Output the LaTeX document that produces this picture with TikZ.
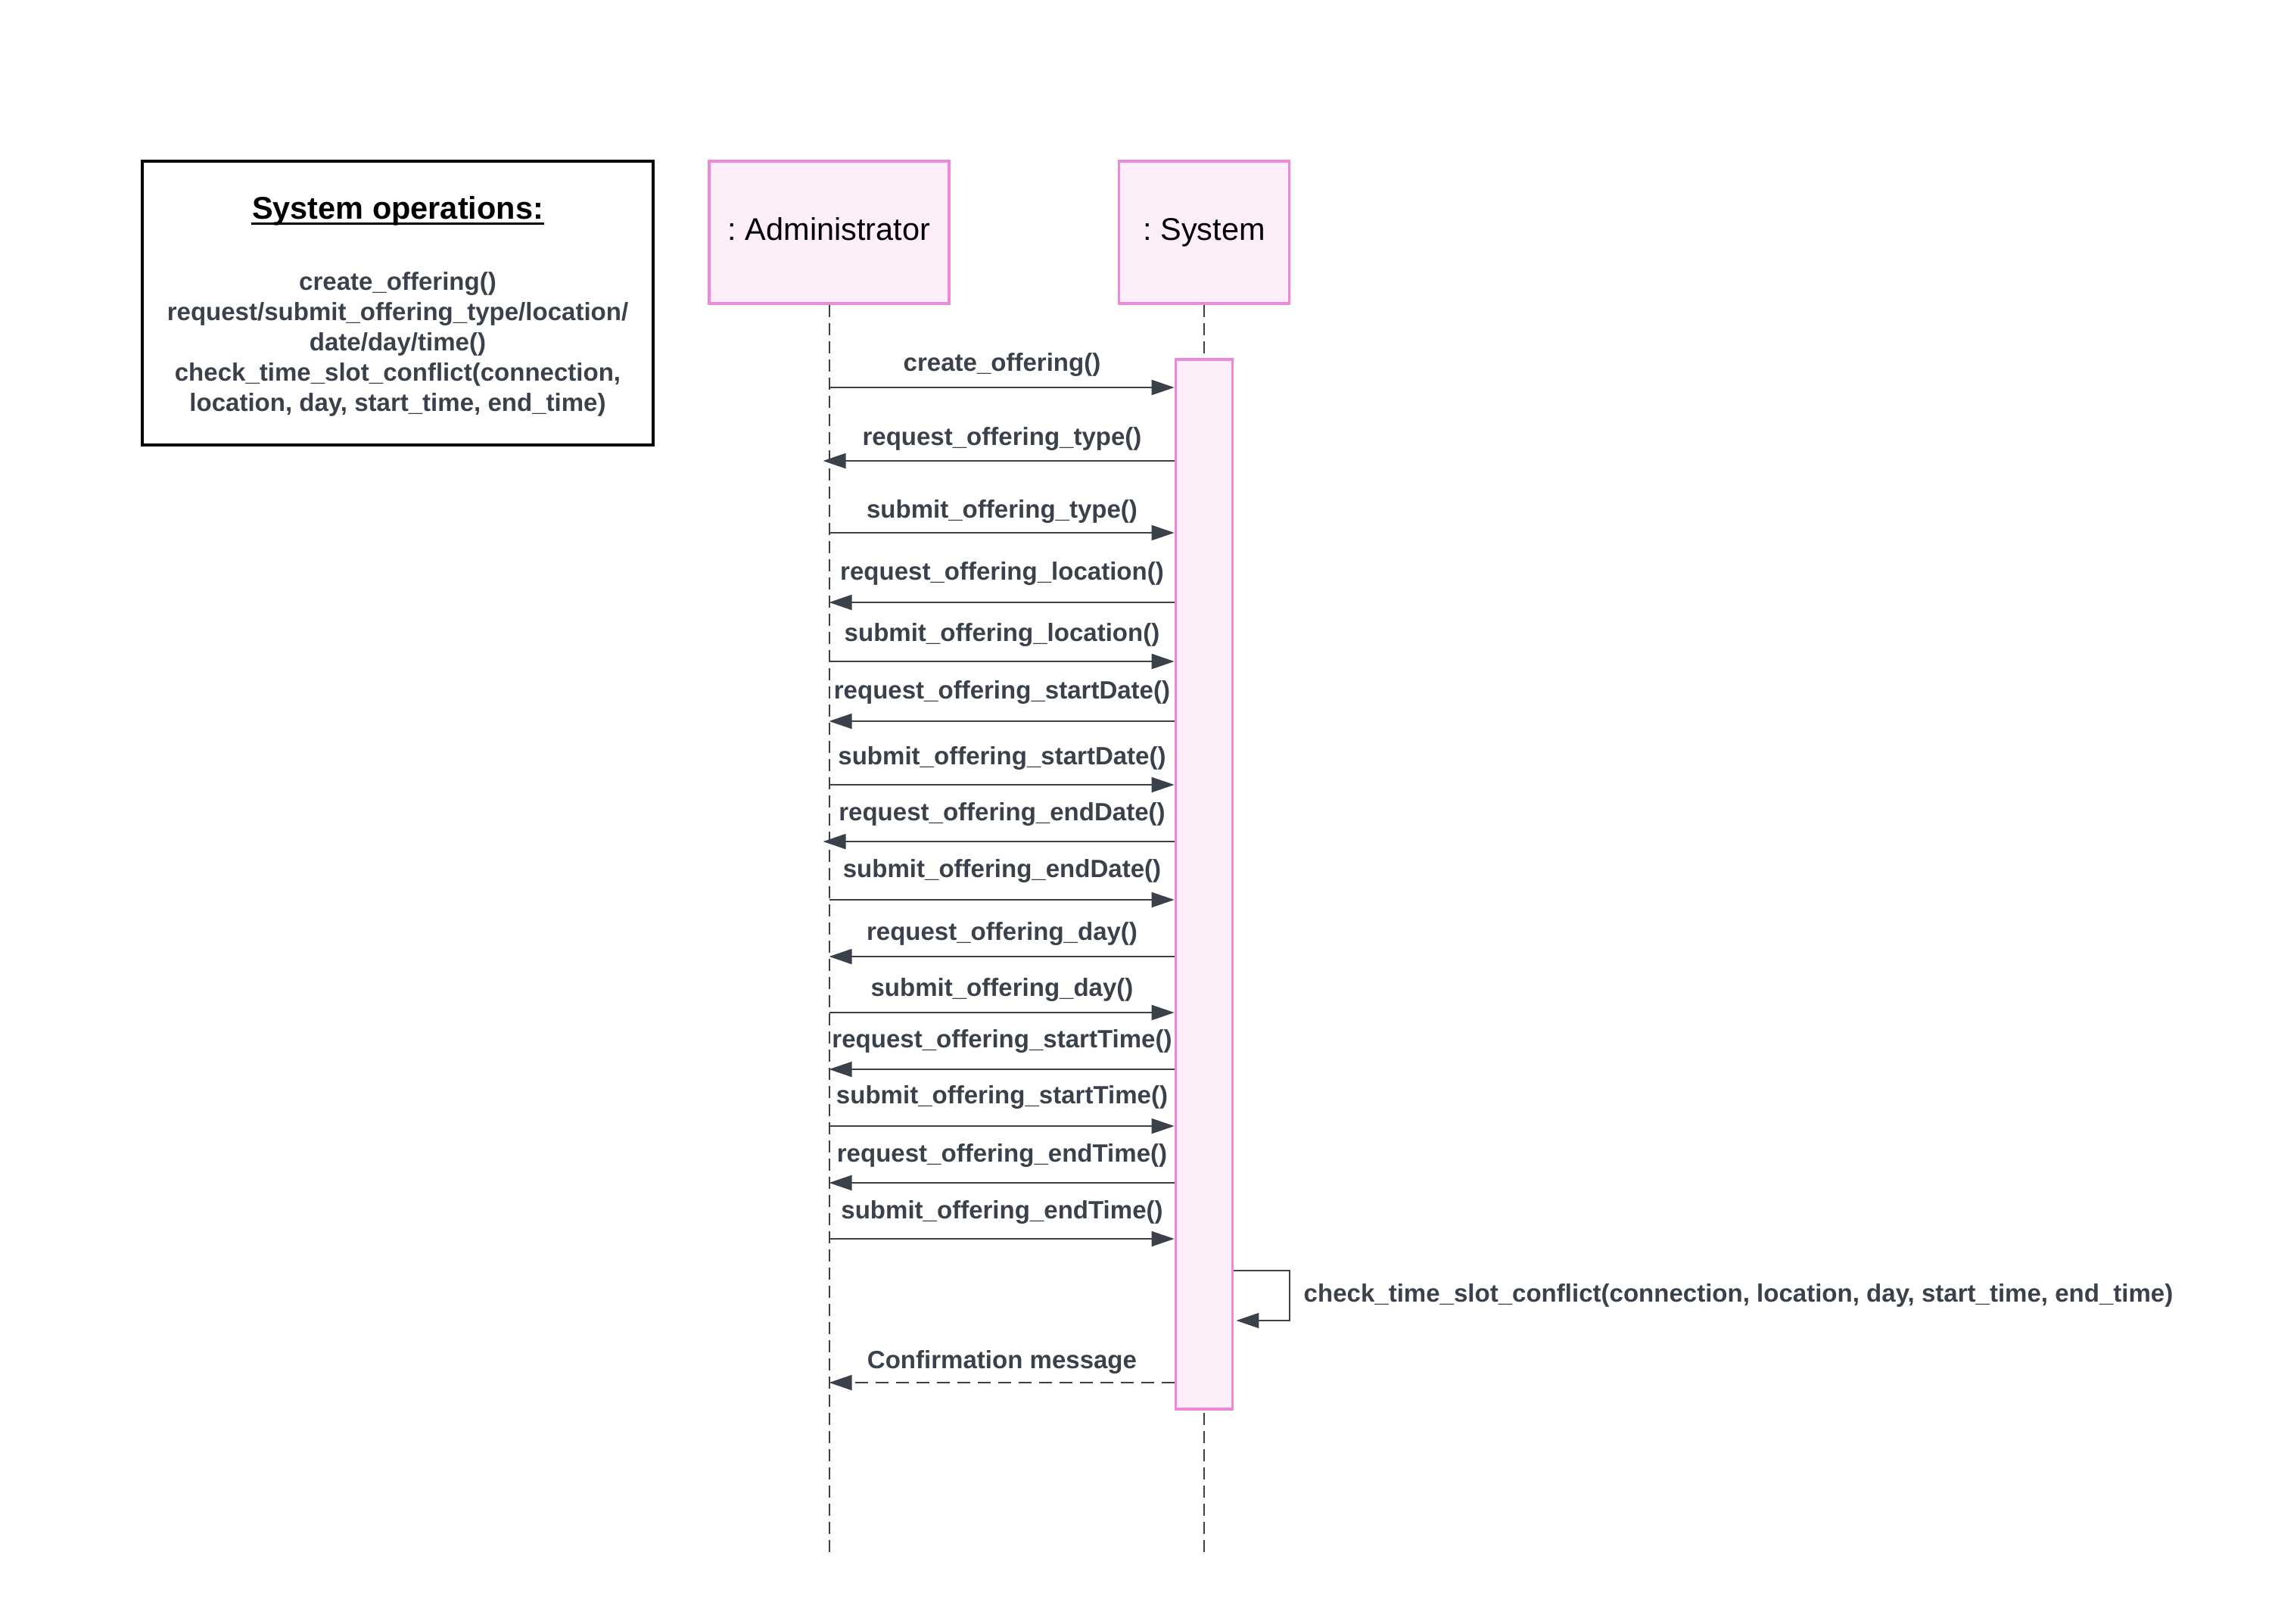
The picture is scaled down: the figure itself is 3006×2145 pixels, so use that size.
\documentclass[tikz,border=0pt]{standalone}
\usepackage{fontspec}
\setmainfont{Liberation Sans}
\usetikzlibrary{arrows.meta}
\frenchspacing
\definecolor{pinkline}{HTML}{EE89D9}
\definecolor{pinkfill}{HTML}{FEEEFA}
\definecolor{ink}{HTML}{3A414A}
\tikzset{
  actor/.style={draw=pinkline, fill=pinkfill, line width=0.35mm, inner sep=0pt, text height=2mm, text depth=0mm, font=\fontsize{11.8pt}{14pt}\selectfont},
  actbar/.style={draw=pinkline, fill=pinkfill, line width=0.38mm, inner sep=0pt, minimum width=7.5mm, minimum height=138.7mm},
  lifeline/.style={draw=ink, line width=0.2mm, dash pattern=on 1.6mm off 0.8mm},
  msg/.style={draw=ink, line width=0.2mm, -{Triangle[length=3mm,width=2mm]}},
  retmsg/.style={msg, dash pattern=on 1.7mm off 1mm},
  msglabel/.style={text=ink, font=\bfseries\fontsize{9.4pt}{11.3pt}\selectfont, inner sep=0pt},
  opsbox/.style={draw=black, line width=0.35mm, inner sep=0pt, minimum width=67.5mm, minimum height=37.5mm}
}
\begin{document}
\begin{tikzpicture}[x=0.1mm, y=-0.1mm]
\useasboundingbox (0,0) rectangle (3006,2145);
% system operations box
\node[opsbox] (ops) at (525.5,400.5) {};
\node[font=\bfseries\fontsize{11.8pt}{14pt}\selectfont, inner sep=0pt, anchor=base] (opstitle) at (525.5,289) {System operations:};
\draw[black, line width=0.3mm] (opstitle.base west |- 0,295) -- (opstitle.base east |- 0,295);
\node[msglabel, align=center, font=\bfseries\fontsize{9.4pt}{11.38pt}\selectfont] (opstext) at (525.5,455)
  {create\_offering()\\request/submit\_offering\_type/location/\\date/day/time()\\check\_time\_slot\_conflict(connection,\\location, day, start\_time, end\_time)};
% actors
\node[actor, minimum width=31.7mm, minimum height=18.8mm] (adm) at (1095.5,307) {: Administrator};
\node[actor, minimum width=22.5mm, minimum height=18.8mm] (sys) at (1591,307) {: System};
% lifelines
\coordinate (admend) at (1095.5,2051);
\coordinate (sysend) at (1591,2051);
\draw[lifeline] (adm.south) -- (admend);
\draw[lifeline] (sys.south) -- (sysend);
% activation bar
\node[actbar] (bar) at (1591,1168.5) {};
% messages
\foreach \y/\ly/\t in {512/482/create\_offering(), 704/676/submit\_offering\_type(), 874/839/submit\_offering\_location(), 1037/1002/submit\_offering\_startDate(), 1189/1151/submit\_offering\_endDate(), 1338/1308/submit\_offering\_day(), 1488/1450/submit\_offering\_startTime(), 1637/1602/submit\_offering\_endTime()}{
  \draw[msg] (adm.south |- 0,\y) -- (bar.west |- 0,\y);
  \node[msglabel] at (1324,\ly) {\t};
}
\foreach \y/\ly/\off/\t in {609/580/-8/request\_offering\_type(), 796/758/0/request\_offering\_location(), 953/915/0/request\_offering\_startDate(), 1112/1076/-8/request\_offering\_endDate(), 1264/1234/0/request\_offering\_day(), 1413/1376/0/request\_offering\_startTime(), 1563/1527/0/request\_offering\_endTime()}{
  \draw[msg] (bar.west |- 0,\y) -- ([xshift=\off*0.1mm]adm.south |- 0,\y);
  \node[msglabel] at (1324,\ly) {\t};
}
% self message
\coordinate (selftop) at (bar.east |- 0,1679);
\coordinate (selfbot) at ([xshift=0.3mm]bar.east |- 0,1745);
\draw[msg] (selftop) -- (1704,1679) -- (1704,1745) -- (selfbot);
\node[msglabel, anchor=west] (selflabel) at (1722,1712) {check\_time\_slot\_conflict(connection, location, day, start\_time, end\_time)};
% return message
\draw[retmsg] (bar.west |- 0,1827) -- (adm.south |- 0,1827);
\node[msglabel] (conflabel) at (1324,1800) {Confirmation message};
\end{tikzpicture}
\end{document}
